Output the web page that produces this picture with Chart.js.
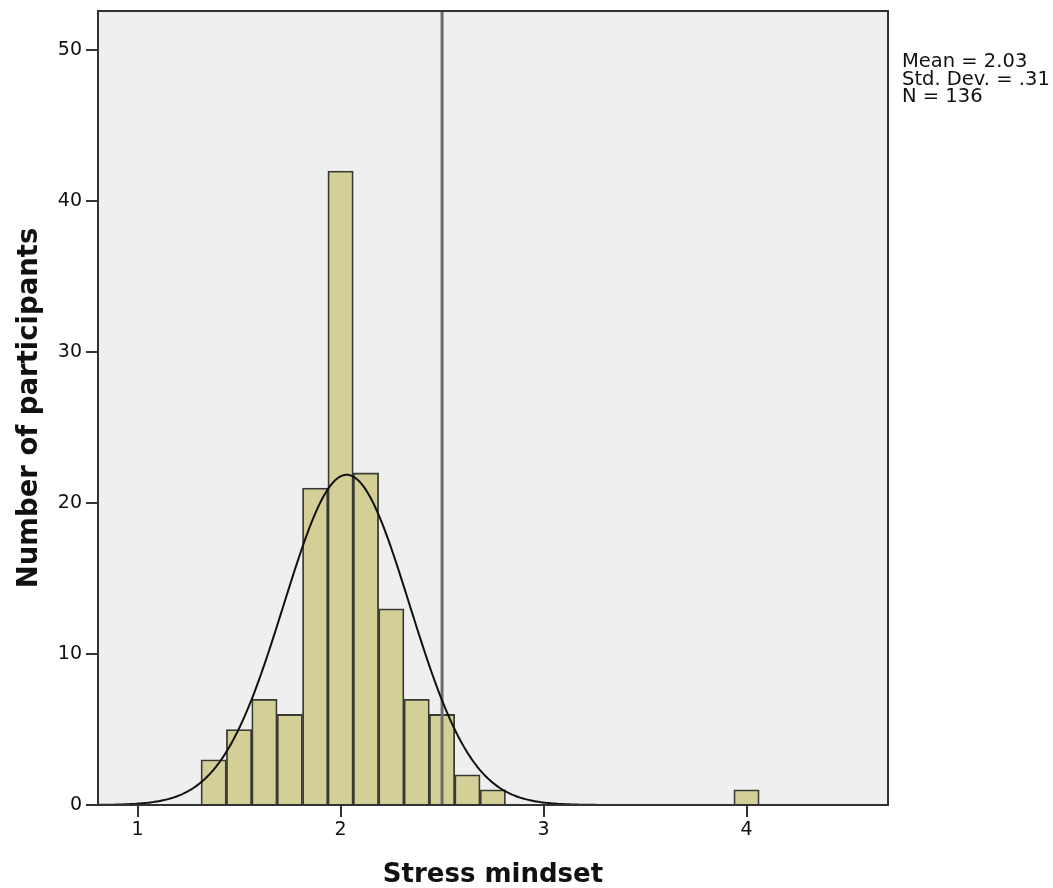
<!DOCTYPE html>
<html lang="en">
<head>
    <meta charset="UTF-8">
    <title>Stress mindset histogram</title>
    <style>
        html, body { margin: 0; padding: 0; background: #fff; }
        #wrap { width: 1053px; height: 888px; }
    </style>
</head>
<body>
    <div id="wrap">
        <canvas id="histChart" width="1053" height="888"></canvas>
    </div>

    <script src="https://cdn.jsdelivr.net/npm/chart.js@4.4.1/dist/chart.umd.min.js"></script>
    <script>
        // histogram bins (centres) and participant counts
        var binCenters = [1.375, 1.5, 1.625, 1.75, 1.875, 2.0, 2.125, 2.25, 2.375, 2.5, 2.625, 2.75, 4.0];
        var counts = [3, 5, 7, 6, 21, 42, 22, 13, 7, 6, 2, 1, 1];
        var binWidth = 0.125;

        // summary stats shown next to the plot
        var mean = 2.03;
        var stdDev = 0.31;
        var n = 136;
        var statLines = ['Mean = 2.03', 'Std. Dev. = .31', 'N = 136'];

        var refLine = 2.5;
        var xTicks = [1, 2, 3, 4];
        var yTicks = [0, 10, 20, 30, 40, 50];
        var xMin = 0.805, xMax = 4.697;
        var yMax = 52.6;

        var FONT = '"DejaVu Sans", sans-serif';

        // normal curve scaled to counts
        function normalCurve() {
            var pts = [];
            for (var x = xMin; x <= xMax + 0.0001; x += 0.01) {
                var z = (x - mean) / stdDev;
                var y = n * binWidth * Math.exp(-0.5 * z * z) / (stdDev * Math.sqrt(2 * Math.PI));
                pts.push({ x: x, y: y });
            }
            return pts;
        }

        var barData = binCenters.map(function (c, i) { return { x: c, y: counts[i] }; });

        // grey plot area + frame, and the stats text on the right
        var frame = {
            id: 'frame',
            beforeDraw: function (chart) {
                var a = chart.chartArea, ctx = chart.ctx;
                ctx.save();
                ctx.fillStyle = '#efefef';
                ctx.fillRect(a.left, a.top, a.right - a.left, a.bottom - a.top);
                ctx.restore();
            },
            afterDraw: function (chart) {
                var a = chart.chartArea, ctx = chart.ctx;
                ctx.save();
                ctx.strokeStyle = '#333';
                ctx.lineWidth = 2;
                ctx.strokeRect(a.left, a.top, a.right - a.left, a.bottom - a.top);
                ctx.fillStyle = '#111';
                ctx.font = '19.5px ' + FONT;
                ctx.textBaseline = 'alphabetic';
                for (var i = 0; i < statLines.length; i++) {
                    ctx.fillText(statLines[i], a.right + 14, 67 + i * 17.5);
                }
                ctx.restore();
            }
        };

        function createChart() {
            var ctx = document.getElementById('histChart').getContext('2d');
            var chart = new Chart(ctx, {
                type: 'bar',
                data: {
                    datasets: [
                        {
                            type: 'line',
                            data: normalCurve(),
                            borderColor: '#111',
                            borderWidth: 2,
                            pointRadius: 0,
                            fill: false,
                            order: 1
                        },
                        {
                            type: 'line',
                            data: [{ x: refLine, y: 0 }, { x: refLine, y: yMax }],
                            borderColor: '#6a6a6a',
                            borderWidth: 3,
                            pointRadius: 0,
                            fill: false,
                            order: 2
                        },
                        {
                            type: 'bar',
                            data: barData,
                            backgroundColor: '#d3cf97',
                            borderColor: '#3a3a34',
                            borderWidth: 1.8,
                            barPercentage: 1.0,
                            categoryPercentage: 1.0,
                            order: 3
                        }
                    ]
                },
                options: {
                    responsive: false,
                    animation: false,
                    layout: { padding: { top: 11, right: 165, left: 0, bottom: 0 } },
                    plugins: {
                        legend: { display: false },
                        tooltip: { enabled: false }
                    },
                    scales: {
                        x: {
                            type: 'linear',
                            min: xMin,
                            max: xMax,
                            offset: false,
                            afterBuildTicks: function (s) { s.ticks = xTicks.map(function (v) { return { value: v }; }); },
                            afterFit: function (s) { s.height = 83; s.paddingLeft = 0; s.paddingRight = 0; },
                            grid: { display: true, offset: false, drawOnChartArea: false, drawTicks: true, tickLength: 12, color: '#333', lineWidth: 2 },
                            border: { display: true, color: '#333', width: 2 },
                            ticks: { color: '#111', font: { family: FONT, size: 19 }, padding: 2, maxRotation: 0 },
                            title: {
                                display: true,
                                text: 'Stress mindset',
                                color: '#111',
                                font: { family: FONT, size: 26, weight: 'bold', lineHeight: 1.0 },
                                padding: { top: 14, bottom: 0 }
                            }
                        },
                        y: {
                            min: 0,
                            max: yMax,
                            afterBuildTicks: function (s) { s.ticks = yTicks.map(function (v) { return { value: v }; }); },
                            afterFit: function (s) { s.width = 98; s.paddingTop = 0; s.paddingBottom = 0; },
                            grid: { display: true, drawOnChartArea: false, drawTicks: true, tickLength: 12, color: '#333', lineWidth: 2 },
                            border: { display: true, color: '#333', width: 2 },
                            ticks: { color: '#111', font: { family: FONT, size: 19 }, padding: 4 },
                            title: {
                                display: true,
                                text: 'Number of participants',
                                color: '#111',
                                font: { family: FONT, size: 27.5, weight: 'bold' },
                                padding: { top: 13, bottom: 0 }
                            }
                        }
                    }
                },
                plugins: [frame]
            });
            return chart;
        }

        createChart();
    </script>
</body>
</html>
